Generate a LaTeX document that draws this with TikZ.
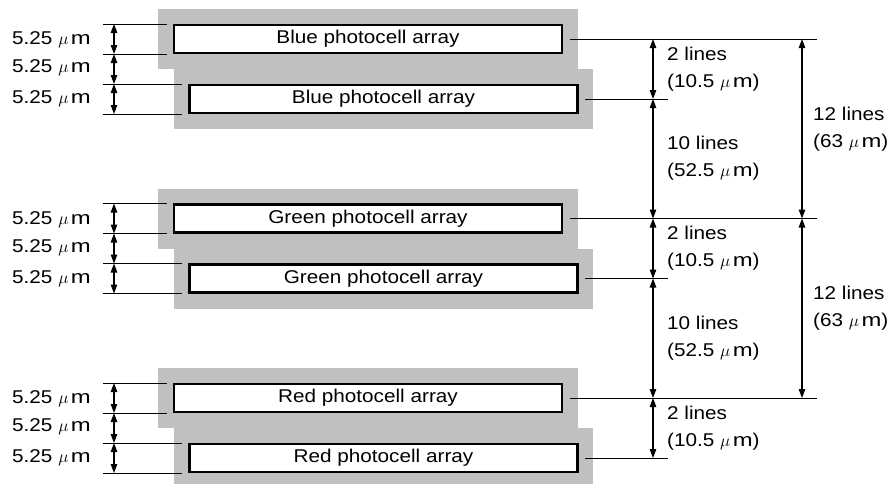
\documentclass[tikz,border=0pt]{standalone}
\usepackage{fontspec}
\usepackage{graphicx}
\setmainfont{Liberation Sans}[FakeStretch=1.12]
\usetikzlibrary{arrows.meta}
\definecolor{shadegray}{RGB}{192,192,192}
\newcommand{\umicro}{$\mu$\kern2.5pt\scalebox{1.15}[1]{m}}
\begin{document}
\begin{tikzpicture}[x=1pt,y=-1pt,
  every node/.style={font=\fontsize{18.5}{26}\selectfont},
  cell/.style={draw, line width=2.5pt, fill=white, minimum width=388pt, minimum height=28pt, inner sep=0pt},
  dim/.style={line width=1pt},
  dimarrow/.style={line width=1.1pt, {Triangle[length=9pt,width=6.5pt]}-{Triangle[length=9pt,width=6.5pt]}},
  lbl/.style={anchor=west, align=left, inner sep=0pt},
  lbr/.style={anchor=east, inner sep=0pt}]
\useasboundingbox (0,0) rectangle (894,483);
\foreach \g/\yy/\col in {B/24/Blue, G/203.5/Green, R/383/Red} {
  \fill[shadegray] (158,{\yy-15}) rectangle (578,{\yy+45});
  \fill[shadegray] (174,{\yy+45}) rectangle (593,{\yy+105});
  \node[cell] (\g1) at (368,{\yy+15}) {\col{} photocell array};
  \node[cell] (\g2) at (383.5,{\yy+75}) {\col{} photocell array};
  % left dimensions
  \coordinate (\g a) at (114,\yy);
  \coordinate (\g b) at (114,{\yy+30});
  \coordinate (\g c) at (114,{\yy+60});
  \coordinate (\g d) at (114,{\yy+90});
  \draw[dim] (103,\yy) -- (167,\yy);
  \draw[dim] (103,{\yy+30}) -- (167,{\yy+30});
  \draw[dim] (103,{\yy+60}) -- (182,{\yy+60});
  \draw[dim] (103,{\yy+90}) -- (182,{\yy+90});
  \draw[dimarrow] (\g a) -- (\g b);
  \draw[dimarrow] (\g b) -- (\g c);
  \draw[dimarrow] (\g c) -- (\g d);
  \node[lbr] (\g t1) at (91,{\yy+16}) {5.25 \umicro};
  \node[lbr] (\g t2) at (91,{\yy+44}) {5.25 \umicro};
  \node[lbr] (\g t3) at (91,{\yy+75}) {5.25 \umicro};
  % right dimensions
  \coordinate (\g r) at (653,{\yy+15});
  \coordinate (\g s) at (653,{\yy+75});
  \coordinate (\g R) at (802,{\yy+15});
  \draw[dim] (570,{\yy+15}) -- (817,{\yy+15});
  \draw[dim] (585,{\yy+75}) -- (668,{\yy+75});
  \draw[dimarrow] (\g r) -- (\g s);
  \node[lbl] (\g n) at (667,{\yy+45}) {2 lines\\[1pt](10.5 \umicro)};
}
\draw[dimarrow] (Bs) -- (Gr);
\draw[dimarrow] (Gs) -- (Rr);
\draw[dimarrow] (BR) -- (GR);
\draw[dimarrow] (GR) -- (RR);
\node[lbl] (t10a) at (667,158.5) {10 lines\\[1pt](52.5 \umicro)};
\node[lbl] (t10b) at (667,338) {10 lines\\[1pt](52.5 \umicro)};
\node[lbl] (t12a) at (813,129) {12 lines\\[1pt](63 \umicro)};
\node[lbl] (t12b) at (813,308) {12 lines\\[1pt](63 \umicro)};
\end{tikzpicture}
\end{document}
